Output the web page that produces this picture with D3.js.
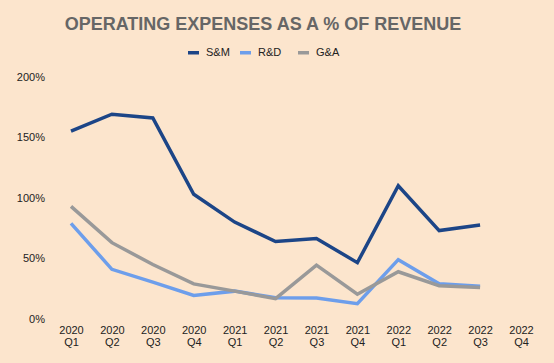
<!DOCTYPE html>
<html><head><meta charset="utf-8">
<script src="https://cdn.jsdelivr.net/npm/d3@7"></script>
<style>html,body{margin:0;padding:0;background:#fce5cd;}svg{display:block;}</style>
</head><body>
<script>
const categories = ["2020 Q1","2020 Q2","2020 Q3","2020 Q4","2021 Q1","2021 Q2","2021 Q3","2021 Q4","2022 Q1","2022 Q2","2022 Q3","2022 Q4"];
const smValues = [155, 169, 166, 103, 80, 64, 66.5, 46.5, 110, 73, 77.5, null];
const rdValues = [79, 41, 30.5, 19.5, 23, 17.5, 17.3, 12.7, 49, 29, 27, null];
const gaValues = [93, 63, 45, 29, 23, 16.8, 44.5, 20.5, 39, 27.5, 26, null];
const yTicks = [0, 50, 100, 150, 200];
const seriesNames = ["S&M", "R&D", "G&A"];
const colors = ["#1c4587", "#6d9eeb", "#999999"];

const W = 554, H = 363;
const svg = d3.select("body").append("svg").attr("width", W).attr("height", H);
svg.append("rect").attr("width", W).attr("height", H).attr("fill", "#fce5cd");

const x = d3.scalePoint().domain(categories).range([71, 521]);
const y = d3.scaleLinear().domain([0, 200]).range([319, 76.7]);

svg.append("text").attr("x", 263).attr("y", 30).attr("text-anchor", "middle")
  .attr("font-family", "Liberation Sans, Arial, sans-serif").attr("font-weight", "bold")
  .attr("font-size", 18).attr("fill", "#666666").text("OPERATING EXPENSES AS A % OF REVENUE");

// legend
const legX = [188, 240, 298];
seriesNames.forEach((n, i) => {
  svg.append("rect").attr("x", legX[i]).attr("y", 51).attr("width", 11).attr("height", 3.5).attr("fill", colors[i]);
  svg.append("text").attr("x", legX[i] + 18).attr("y", 56).attr("font-family", "Liberation Sans, Arial, sans-serif")
    .attr("font-size", 11).attr("fill", "#222").text(n);
});

// y axis
const yAxis = d3.axisLeft(y).tickValues(yTicks).tickFormat(d => d + "%").tickSize(0).tickPadding(0);
const gy = svg.append("g").attr("transform", "translate(45,0)").call(yAxis);
gy.select(".domain").remove();
gy.selectAll("text").attr("font-family", "Liberation Sans, Arial, sans-serif").attr("font-size", 11).attr("fill", "#222");

// x axis
const xAxis = d3.axisBottom(x).tickSize(0).tickFormat("");
const gx = svg.append("g").attr("transform", "translate(0,319)").call(xAxis);
gx.select(".domain").remove();
gx.selectAll(".tick").each(function(d) {
  const parts = d.split(" ");
  const t = d3.select(this).append("text").attr("text-anchor", "middle")
    .attr("font-family", "Liberation Sans, Arial, sans-serif").attr("font-size", 11).attr("fill", "#222");
  t.append("tspan").attr("x", 0).attr("y", 15).text(parts[0]);
  t.append("tspan").attr("x", 0).attr("y", 27).text(parts[1]);
});

const line = d3.line().defined(d => d.v != null).x(d => x(d.c)).y(d => y(d.v));
const allSeries = [smValues, rdValues, gaValues];
[1, 2, 0].forEach(i => {
  const data = categories.map((c, j) => ({c, v: allSeries[i][j]}));
  svg.append("path").datum(data).attr("d", line).attr("fill", "none")
    .attr("stroke", colors[i]).attr("stroke-width", 3.5).attr("stroke-linejoin", "miter");
});
</script>
</body></html>
